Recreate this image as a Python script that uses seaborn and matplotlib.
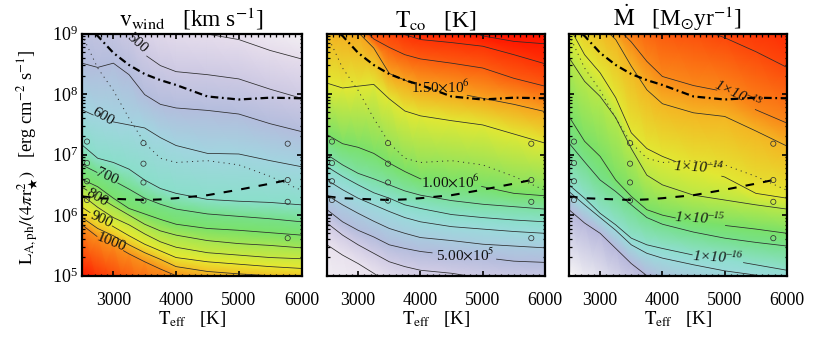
import numpy as np
import matplotlib
matplotlib.use("Agg")
import matplotlib.pyplot as plt
from matplotlib.colors import LinearSegmentedColormap
from matplotlib.ticker import MultipleLocator, LogLocator, NullFormatter
import seaborn as sns

# ---------- data (log10 L at each Teff column) ----------
T_GRID = [2500, 2750, 3000, 3250, 3500, 3750, 4000, 4500, 5000, 5500, 6000]

# v_wind contours
v450 = [10.11, 9.89, 9.72, 9.56, 9.34, 9.17, 9.06, 8.99, 8.90, 8.72, 8.58]
v500 = [9.67, 9.50, 9.28, 9.01, 8.65, 8.47, 8.37, 8.32, 8.25, 8.08, 7.93]
v550 = [8.51, 8.44, 8.51, 8.32, 7.99, 7.83, 7.77, 7.73, 7.67, 7.51, 7.38]
v600 = [7.74, 7.62, 7.54, 7.49, 7.44, 7.28, 7.15, 7.02, 7.01, 6.90, 6.80]
v650 = [7.16, 6.94, 6.87, 6.76, 6.58, 6.44, 6.36, 6.26, 6.23, 6.21, 6.17]
v700 = [6.83, 6.70, 6.57, 6.43, 6.28, 6.18, 6.10, 6.02, 5.98, 5.94, 5.89]
v750 = [6.59, 6.47, 6.28, 6.11, 6.02, 5.93, 5.85, 5.78, 5.75, 5.71, 5.67]
v800 = [6.46, 6.31, 6.15, 6.00, 5.85, 5.74, 5.67, 5.58, 5.53, 5.50, 5.46]
v850 = [6.33, 6.13, 5.96, 5.84, 5.69, 5.56, 5.47, 5.38, 5.34, 5.30, 5.28]
v900 = [6.13, 5.96, 5.81, 5.66, 5.52, 5.41, 5.30, 5.23, 5.19, 5.15, 5.12]
v950 = [5.96, 5.78, 5.66, 5.51, 5.38, 5.27, 5.15, 5.07, 5.03, 5.00, 4.97]
v1000 = [5.84, 5.64, 5.51, 5.36, 5.23, 5.11, 5.00, 4.87, 4.82, 4.76, 4.71]
v_edge_top = [10.6, 10.4, 10.2, 10.0, 9.8, 9.6, 9.5, 9.45, 9.35, 9.2, 9.03]
v_edge_bottom = [5.0, 4.8, 4.6, 4.4, 4.2, 4.0, 3.9, 3.8, 3.7, 3.6, 3.5]

# T_co contours
t1 = [10.66, 10.49, 10.33, 10.16, 9.89, 9.67, 9.45, 9.17, 8.96, 8.87, 8.83]
t2 = [10.11, 9.94, 9.78, 9.56, 9.23, 8.98, 8.90, 8.85, 8.79, 8.65, 8.50]
t3 = [9.67, 9.45, 9.17, 8.91, 8.77, 8.65, 8.58, 8.51, 8.43, 8.26, 8.13]
t4 = [9.28, 9.14, 9.02, 8.76, 8.34, 8.23, 8.11, 8.03, 7.93, 7.83, 7.71]
t5 = [8.18, 8.10, 8.13, 8.16, 7.92, 7.72, 7.64, 7.56, 7.49, 7.34, 7.19]
t6 = [7.33, 7.18, 7.12, 7.02, 6.86, 6.72, 6.60, 6.54, 6.47, 6.36, 6.32]
t7 = [7.00, 6.83, 6.69, 6.60, 6.50, 6.40, 6.33, 6.24, 6.18, 6.14, 6.10]
t8 = [6.80, 6.64, 6.50, 6.37, 6.28, 6.17, 6.11, 6.01, 5.96, 5.92, 5.89]
t9 = [6.58, 6.42, 6.28, 6.17, 6.06, 5.96, 5.89, 5.81, 5.77, 5.73, 5.70]
t10 = [6.33, 6.17, 6.03, 5.90, 5.78, 5.70, 5.63, 5.58, 5.52, 5.49, 5.46]
t11 = [6.09, 5.89, 5.75, 5.64, 5.51, 5.45, 5.40, 5.34, 5.30, 5.24, 5.22]
t12 = [5.87, 5.67, 5.51, 5.37, 5.23, 5.15, 5.09, 5.04, 4.96, 4.90, 4.85]
t13 = [5.51, 5.34, 5.20, 5.04, 4.87, 4.76, 4.65, 4.54, 4.43, 4.32, 4.21]

# Mdot contours
m1 = [10.27, 10.11, 9.94, 9.78, 9.61, 9.45, 9.28, 9.12, 8.93, 8.70, 8.44]
m2 = [9.59, 9.42, 9.26, 9.12, 8.86, 8.54, 8.29, 8.14, 8.04, 7.74, 7.52]
m3 = [9.53, 9.34, 9.15, 8.90, 8.46, 8.07, 7.84, 7.69, 7.63, 7.39, 7.14]
m4 = [9.12, 8.65, 8.35, 7.94, 7.36, 7.10, 6.97, 6.77, 6.63, 6.36, 6.28]
m5 = [8.60, 8.21, 7.96, 7.61, 7.10, 6.66, 6.50, 6.33, 6.25, 6.17, 6.10]
m6 = [7.63, 7.22, 6.97, 6.58, 6.31, 6.09, 6.00, 5.89, 5.83, 5.77, 5.70]
m7 = [7.19, 6.88, 6.58, 6.39, 6.17, 5.96, 5.85, 5.72, 5.62, 5.55, 5.49]
m8 = [6.50, 6.28, 6.03, 5.84, 5.62, 5.51, 5.45, 5.34, 5.27, 5.18, 5.09]
m9 = [6.39, 6.17, 5.96, 5.75, 5.51, 5.37, 5.29, 5.18, 5.08, 5.01, 4.93]
m10 = [6.09, 5.87, 5.70, 5.45, 5.20, 5.00, 4.82, 4.60, 4.38, 4.16, 3.94]

# curves shared by all panels
dotted_curve = [8.98, 8.43, 8.06, 7.60, 7.19, 6.94, 6.87, 6.90, 6.83, 6.64, 6.41]
dashdot_curve = [9.14, 8.96, 8.68, 8.48, 8.33, 8.23, 8.15, 7.96, 7.91, 7.94, 7.93]
dashed_T = [2500, 2750, 3000, 3250, 3500, 3750, 4000, 4500, 5000, 5500, 5870]
dashed_curve = [6.31, 6.28, 6.27, 6.26, 6.25, 6.26, 6.28, 6.33, 6.42, 6.52, 6.60]
points_T = [2580, 2580, 2580, 2580, 3480, 3480, 3480, 3480, 5780, 5780, 5780, 5780]
points_L = [7.215, 6.86, 6.56, 6.25, 7.19, 6.85, 6.54, 6.24, 7.18, 6.58, 6.22, 5.62]

# colour position of each contour row
v_pos = [0.02, 0.10, 0.18, 0.27, 0.37, 0.47, 0.55, 0.60, 0.68, 0.74, 0.78, 0.83, 0.88, 1.0]
t_pos = [1.0, 1.0, 0.97, 0.93, 0.86, 0.77, 0.60, 0.52, 0.47, 0.40, 0.33, 0.27, 0.17, 0.08, 0.0]
m_pos = [1.0, 0.95, 0.89, 0.84, 0.77, 0.72, 0.60, 0.55, 0.45, 0.40, 0.25, 0.02]

rainbow = LinearSegmentedColormap.from_list("rb", [
    (0.00, "#f6f6f6"), (0.10, "#e6dcec"), (0.25, "#b8b8dc"), (0.38, "#a0d8e0"),
    (0.48, "#88e0c8"), (0.58, "#70e070"), (0.72, "#b8e848"), (0.78, "#e8e830"),
    (0.86, "#f8a820"), (1.00, "#ff1800")])

# ---------- style ----------
sns.set_theme(style="ticks", rc={
    "text.color": "black", "axes.labelcolor": "black", "axes.edgecolor": "black",
    "xtick.color": "black", "ytick.color": "black"})
plt.rcParams.update({
    "font.family": ["Liberation Serif", "DejaVu Serif"],
    "mathtext.fontset": "stix",
    "lines.scale_dashes": False,
    "axes.linewidth": 1.6,
})

W, H = 830, 345
fig = plt.figure(figsize=(W / 100, H / 100), dpi=100)
BOX = [(82, 301.5), (327, 545), (569, 787)]
TOP, BOT = 33.5, 275.7

LINE = "#2c2c2c"


def curve(ax, T, logL, **kw):
    kw.setdefault("color", LINE)
    kw.setdefault("linewidth", 0.55)
    sns.lineplot(x=np.asarray(T, float), y=10 ** np.asarray(logL, float), ax=ax,
                 estimator=None, sort=False, errorbar=None, legend=False, **kw)


def contour(ax, logL, gap=None):
    T = np.array(T_GRID, float)
    logL = np.array(logL, float)
    if gap is None:
        curve(ax, T, logL)
        return
    g0, g1 = gap
    left = T < g0
    right = T > g1
    curve(ax, np.r_[T[left], g0], np.r_[logL[left], np.interp(g0, T, logL)])
    curve(ax, np.r_[g1, T[right]], np.r_[np.interp(g1, T, logL), logL[right]])


def panel(i, rows, pos, gaps, labels, title, style="normal"):
    x0, x1 = BOX[i]
    ax = fig.add_axes([x0 / W, 1 - BOT / H, (x1 - x0) / W, (BOT - TOP) / H])
    ax.set_yscale("log")
    R = np.array(rows, float)
    X = np.tile(np.array(T_GRID, float), (R.shape[0], 1))
    C = np.tile(np.array(pos, float)[:, None], (1, R.shape[1]))
    ax.pcolormesh(X, 10 ** R, C, shading="gouraud", cmap=rainbow, vmin=0, vmax=1, zorder=0)
    for k, r in enumerate(rows[1:-1]):
        contour(ax, r, gaps.get(k))
    curve(ax, T_GRID, dotted_curve, linewidth=0.7, linestyle=(0, (0.8, 3.0)), color="#333333")
    curve(ax, T_GRID, dashdot_curve, linewidth=1.6, color="black",
          linestyle=(0, (5.5, 2.6, 1.3, 2.6)))
    curve(ax, dashed_T, dashed_curve, linewidth=1.5, color="black", linestyle=(0, (6.2, 6.6)))
    sns.scatterplot(x=points_T, y=10 ** np.array(points_L), ax=ax, s=14, marker="o",
                    facecolor="none", edgecolor="#333333", linewidth=0.55, legend=False, zorder=4)
    for (tx, ly, s, rot) in labels:
        ax.text(tx, 10 ** ly, s, rotation=rot, rotation_mode="anchor", ha="center", va="center",
                fontsize=11, color="#111111", zorder=5, style=style)
    ax.set_xlim(2500, 6000)
    ax.set_ylim(1e5, 1e9)
    ax.set_xticks([3000, 4000, 5000, 6000])
    ax.set_xticklabels(["3000", "4000", "5000", "6000"], fontsize=12.8)
    ax.xaxis.set_minor_locator(MultipleLocator(100))
    ax.set_yticks([1e5, 1e6, 1e7, 1e8, 1e9])
    ax.yaxis.set_minor_locator(LogLocator(base=10, subs=np.arange(2, 10), numticks=12))
    ax.yaxis.set_minor_formatter(NullFormatter())
    if i == 0:
        ax.set_yticklabels([r"$\mathdefault{10^{%d}}$" % e for e in range(5, 10)], fontsize=13)
    else:
        ax.set_yticklabels([])
    ax.tick_params(which="major", direction="in", top=True, right=True, length=3.4, width=1.2, pad=3)
    ax.tick_params(axis="x", which="major", pad=11.5)
    ax.tick_params(which="minor", direction="in", top=True, right=True, length=1.8, width=0.9)
    ax.set_xlabel(r"$\mathrm{T}_{\mathrm{eff}}$   [K]", fontsize=13.5, labelpad=0)
    ax.set_ylabel("")
    ax.set_title(title, fontsize=16.8, pad=5)
    return ax


v_rows = [v_edge_top, v450, v500, v550, v600, v650, v700, v750, v800, v850, v900, v950, v1000, v_edge_bottom]
v_gaps = {1: (3200, 3530), 3: (2680, 3000), 5: (2740, 3070), 7: (2580, 2900), 9: (2630, 2980), 11: (2740, 3160)}
v_labels = [(3375, 8.85, "500", -42), (2829, 7.62, "600", -30), (2898, 6.64, "700", -25),
            (2739, 6.29, "800", -30), (2807, 5.92, "900", -25), (2961, 5.55, "1000", -22)]

t_top = list(np.array(t1) + 1.0)
t_bot = list(np.array(t13) - 1.0)
t_rows = [t_top, t1, t2, t3, t4, t5, t6, t7, t8, t9, t10, t11, t12, t13, t_bot]
t_gaps = {3: (3870, 4750), 5: (4010, 4980), 10: (4190, 5220)}
t_labels = [(4325, 8.11, r"1.50$\times$10$^{6}$", 0), (4477, 6.55, r"1.00$\times$10$^{6}$", 0),
            (4718, 5.34, r"5.00$\times$10$^{5}$", 0)]

m_top = list(np.array(m1) + 1.0)
m_bot = list(np.array(m10) - 1.0)
m_rows = [m_top, m1, m2, m3, m4, m5, m6, m7, m8, m9, m10, m_bot]
m_gaps = {1: (4875, 5490), 3: (4220, 4950), 5: (4210, 5010), 7: (4480, 5300)}
m_labels = [(5215, 7.99, r"$\mathdefault{1×10^{–13}}$", -25), (4584, 6.79, r"$\mathdefault{1×10^{–14}}$", -3),
            (4600, 5.95, r"$\mathdefault{1×10^{–15}}$", -3), (4894, 5.31, r"$\mathdefault{1×10^{–16}}$", -3)]

ax1 = panel(0, v_rows, v_pos, v_gaps, v_labels, r"$\mathrm{v}_{\mathrm{wind}}$   [km s$^{-1}$]")
ax2 = panel(1, t_rows, t_pos, t_gaps, t_labels, r"$\mathrm{T}_{\mathrm{co}}$   [K]")
ax3 = panel(2, m_rows, m_pos, m_gaps, m_labels, r"$\dot{\mathrm{M}}$   [M$_{\odot}$yr$^{-1}$]", style="italic")

fig.text(28 / W, 1 - 157 / H,
         r"$\mathrm{L}_{\mathrm{A,ph}}/(4\pi\mathrm{r}_{\bigstar}^{2})$   [erg cm$^{-2}$ s$^{-1}$]",
         rotation=90, ha="center", va="center", fontsize=13.2)

fig.savefig("out.png", dpi=100)
